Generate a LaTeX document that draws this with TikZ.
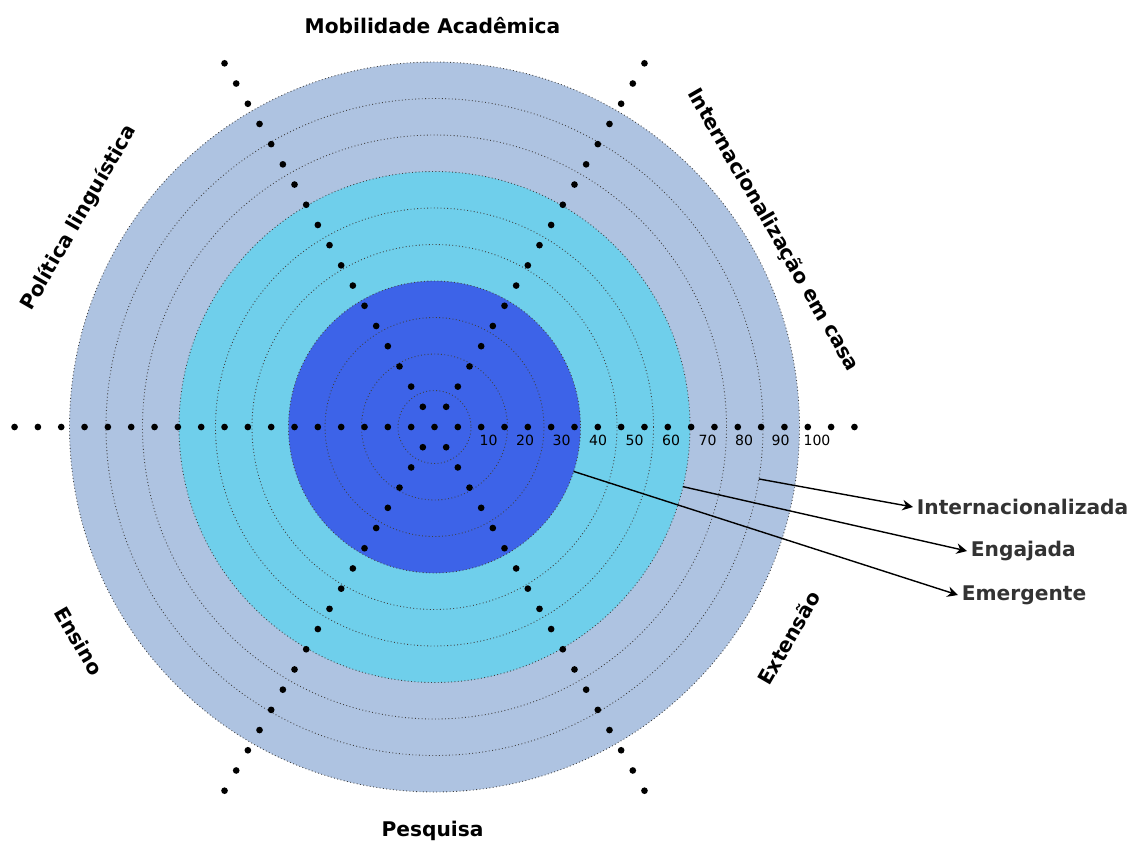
\documentclass[tikz,border=0pt]{standalone}
\usepackage{fontspec}
\setmainfont{DejaVu Sans}
\usepackage{xcolor}
\usepackage{tikz}
\usetikzlibrary{arrows.meta}

\definecolor{ringout}{HTML}{AEC3E1}
\definecolor{ringmid}{HTML}{6FCFEB}
\definecolor{ringin}{HTML}{3D63E8}
\definecolor{lblgrey}{HTML}{333333}

\begin{document}
\begin{tikzpicture}[x=0.02cm, y=-0.02cm,
    axislbl/.style={font=\fontsize{11.5}{14}\selectfont\bfseries, inner sep=1pt},
    levellbl/.style={font=\fontsize{11.5}{14}\selectfont\bfseries, text=lblgrey, anchor=west, inner sep=2pt},
    numlbl/.style={font=\fontsize{8}{9.6}\selectfont, inner sep=0pt},
    ring/.style={black!75, line width=0.5pt, dash pattern=on 0.5pt off 1.4pt},
    pointer/.style={-{Stealth[length=6pt, width=6pt]}, line width=0.8pt}]

        \useasboundingbox (0,0) rectangle (1132,842);
        \coordinate (c) at (434.5,427);

        \fill[ringout] (c) circle (365);
        \fill[ringmid] (c) circle (255.5);
        \fill[ringin] (c) circle (146);
        \foreach \k in {1,...,10}
            \draw[ring] (c) circle (\k*36.5);

        \fill (c) circle[radius=1.9pt];
        \foreach \a in {0,60,...,300}
            \foreach \i in {1,...,18}
                \fill ([shift={(\a:\i*23.33)}]c) circle[radius=1.9pt];

        \foreach \k [evaluate=\k as \v using int(10*\k)] in {1,...,10}
            \node[numlbl] (n\k) at ([shift={(\k*36.5+17.5,13)}]c) {\v};

        \node[axislbl] (mob) at (432.5,26) {Mobilidade Acadêmica};
        \node[axislbl] (pes) at (432.5,831) {Pesquisa};
        \node[axislbl, rotate=60] (pol) at (79,218) {Política linguística};
        \node[axislbl, rotate=-60] (cas) at (773,230) {Internacionalização em casa};
        \node[axislbl, rotate=-60] (ens) at (79,641) {Ensino};
        \node[axislbl, rotate=60] (ext) at (789,638) {Extensão};

        \node[levellbl] (intz) at (913,507) {Internacionalizada};
        \node[levellbl] (eng) at (967,551) {Engajada};
        \node[levellbl] (emg) at (958,595) {Emergente};

        \coordinate (intzstart) at ([shift={(9.1:328.5)}]c);
        \coordinate (engstart) at ([shift={(13.5:255.5)}]c);
        \coordinate (emgstart) at ([shift={(17.7:146)}]c);
        \draw[pointer] (intzstart) -- (intz.west);
        \draw[pointer] (engstart) -- (eng.west);
        \draw[pointer] (emgstart) -- (emg.west);
    \end{tikzpicture}
\end{document}
